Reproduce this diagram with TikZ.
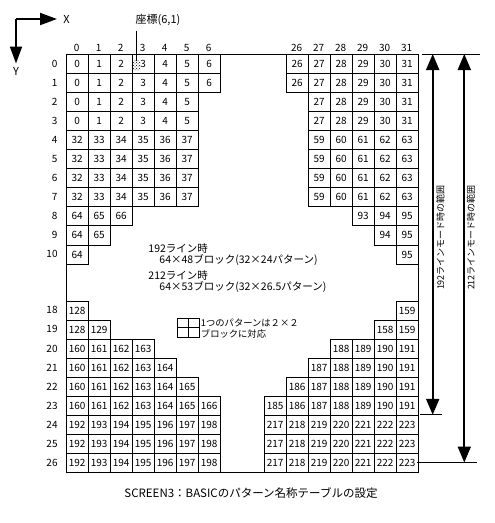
\documentclass[tikz,border=0pt]{standalone}
\usepackage{fontspec}
\setmainfont{Noto Sans CJK JP}
\usetikzlibrary{arrows.meta,patterns}
\begin{document}
\begin{tikzpicture}[x=1pt,y=-1pt,line width=0.9pt,
  cell/.style={draw,line width=0.9pt,minimum width=22pt,minimum height=19.05pt,inner sep=0pt,anchor=north west,font=\fontsize{10}{10}\selectfont},
  hdr/.style={inner sep=0pt,font=\fontsize{10}{10}\selectfont},
  txt/.style={inner sep=0pt,anchor=west,font=\fontsize{10.5}{10.5}\selectfont},
  vtxt/.style={inner sep=0pt,rotate=90,font=\fontsize{9}{9}\selectfont},
  bigarrow/.style={line width=2pt,-{Triangle[length=17pt,width=12pt]}},
  dimarrow/.style={line width=2pt,{Triangle[length=16pt,width=13pt]}-{Triangle[length=16pt,width=13pt]}},
  thin/.style={line width=0.9pt}]
\useasboundingbox (0,0) rectangle (495,523);
% frame
\node[draw,thin,minimum width=352pt,minimum height=418pt,inner sep=0pt,anchor=north west] (frame) at (65.7,54) {};
% cells
\foreach \r/\L/\S/\base in {0/7/26/0,1/7/26/0,2/6/27/0,3/6/27/0,4/6/27/32,5/6/27/32,6/6/27/32,7/6/27/32,8/3/29/64,9/2/30/64,10/1/31/64,
  18/1/31/128,19/2/30/128,20/4/28/160,21/5/27/160,22/6/26/160,23/7/25/160,24/7/25/192,25/7/25/192,26/7/25/192}{
  \pgfmathsetmacro\yt{\r<11 ? 54+19.05*\r : 472-19.05*(27-\r)}
  \pgfmathtruncatemacro\Lm{\L-1}
  \foreach \c in {0,...,\Lm}{
    \pgfmathtruncatemacro\v{\base+\c}
    \node[cell] (L-\r-\c) at ({65.7+22*\c},\yt) {\v};
  }
  \foreach \c in {\S,...,31}{
    \pgfmathtruncatemacro\v{\base+\c}
    \node[cell] (R-\r-\c) at ({417.7-22*(32-\c)},\yt) {\v};
  }
  \node[hdr,anchor=east] (rh-\r) at (58,\yt+9.8) {\r};
}
% column headers
\foreach \c in {0,...,6}{\node[hdr] (ch-\c) at ({65.7+22*\c+11},47.5) {\c};}
\foreach \c in {26,...,31}{\node[hdr] (ch-\c) at ({417.7-22*(32-\c)+11},47.5) {\c};}
% shaded block (6,1)
\fill[pattern=crosshatch dots] (133.2,60.5) rectangle (140.5,70.5);
% coordinate label
\node[inner sep=0pt,font=\fontsize{11}{11}\selectfont] (zlbl) at (158,20) {座標(6,1)};
\coordinate (lead) at (136.7,31);
\coordinate (blk) at (136.7,61);
\draw[thin] (lead) -- (blk);
% axes
\coordinate (o) at (16,19);
\coordinate (xe) at (57,19);
\coordinate (ye) at (16,63.5);
\node[inner sep=0pt,font=\fontsize{11}{11}\selectfont] (xl) at (66.5,19) {X};
\node[inner sep=0pt,font=\fontsize{11}{11}\selectfont] (yl) at (16,71) {Y};
\draw[bigarrow] (o) -- (xe);
\draw[bigarrow] (o) -- (ye);
% center texts
\node[txt] (t1) at (148,248.5) {192ライン時};
\node[txt] (t2) at (159,260.5) {64×48ブロック(32×24パターン)};
\node[txt] (t3) at (148,275.5) {212ライン時};
\node[txt] (t4) at (159,287.5) {64×53ブロック(32×26.5パターン)};
% 2x2 box
\node[draw,thin,minimum width=22pt,minimum height=18.5pt,inner sep=0pt,anchor=north west] (box) at (176.7,318) {};
\draw[thin] (box.north) -- (box.south);
\draw[thin] (box.west) -- (box.east);
\node[inner sep=0pt,anchor=west,font=\fontsize{9.3}{9.3}\selectfont] (b1) at (200.5,322.5) {1つのパターンは２×２};
\node[inner sep=0pt,anchor=west,font=\fontsize{9.3}{9.3}\selectfont] (b2) at (200.5,333.5) {ブロックに対応};
% right range arrows
\coordinate (m1a) at (421.7,54); \coordinate (m1b) at (480,54);
\draw[thin] (m1a) -- (m1b);
\coordinate (m2a) at (420,414.8); \coordinate (m2b) at (441.7,414.8);
\draw[thin] (m2a) -- (m2b);
\coordinate (m3a) at (416.7,462.5); \coordinate (m3b) at (476.7,462.5);
\draw[thin] (m3a) -- (m3b);
\coordinate (a1t) at (432.7,54); \coordinate (a1b) at (432.7,414.8);
\coordinate (a2t) at (464.3,54); \coordinate (a2b) at (464.3,462.5);
\draw[dimarrow] (a1t) -- (a1b);
\draw[dimarrow] (a2t) -- (a2b);
\node[vtxt] (v1) at (440.5,237.5) {192ラインモード時の範囲};
\node[vtxt] (v2) at (471,237.5) {212ラインモード時の範囲};
% caption
\node[inner sep=0pt,font=\fontsize{11.5}{11.5}\selectfont] (cap) at (251,493) {SCREEN3：BASICのパターン名称テーブルの設定};
\end{tikzpicture}
\end{document}
